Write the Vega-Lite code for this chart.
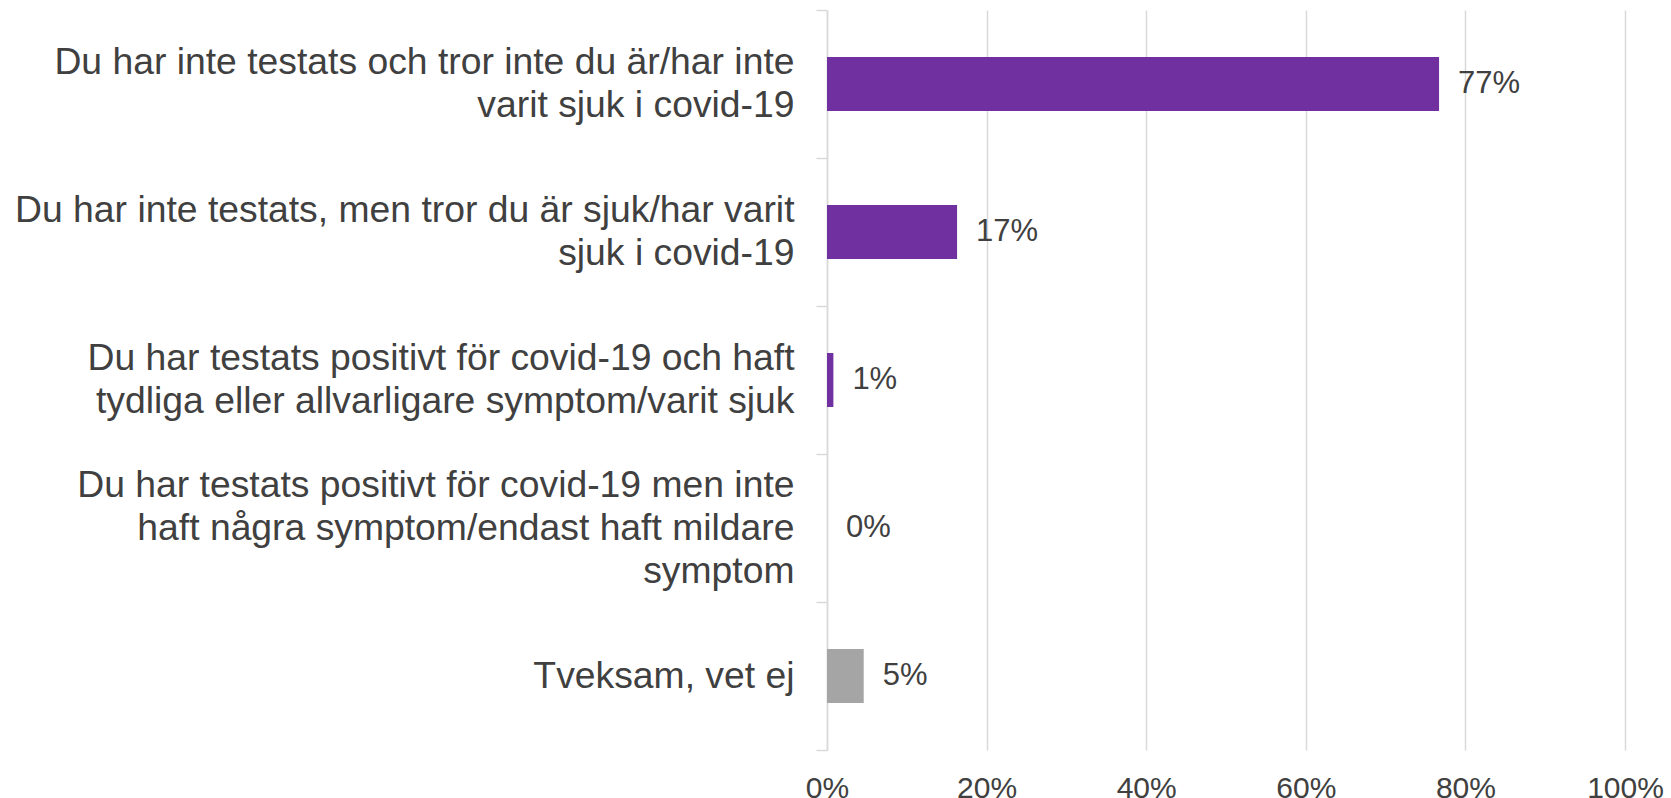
{
  "$schema": "https://vega.github.io/schema/vega-lite/v6.json",
  "autosize": "none",
  "width": 798,
  "height": 740,
  "padding": {"left": 827, "top": 10, "right": 46, "bottom": 48},
  "background": "white",
  "config": {"view": {"stroke": null}, "font": "Liberation Sans"},
  "data": {
    "values": [
      {"kategori": "Du har inte testats och tror inte du är/har inte|varit sjuk i covid-19", "andel": 0.767, "etikett": "77%", "grupp": "a"},
      {"kategori": "Du har inte testats, men tror du är sjuk/har varit|sjuk i covid-19", "andel": 0.163, "etikett": "17%", "grupp": "a"},
      {"kategori": "Du har testats positivt för covid-19 och haft|tydliga eller allvarligare symptom/varit sjuk", "andel": 0.008, "etikett": "1%", "grupp": "a"},
      {"kategori": "Du har testats positivt för covid-19 men inte|haft några symptom/endast haft mildare|symptom", "andel": 0.0, "etikett": "0%", "grupp": "a"},
      {"kategori": "Tveksam, vet ej", "andel": 0.046, "etikett": "5%", "grupp": "b"}
    ]
  },
  "encoding": {
    "y": {
      "field": "kategori",
      "type": "nominal",
      "sort": null,
      "scale": {"paddingInner": 0, "paddingOuter": 0},
      "axis": {
        "title": null,
        "labelExpr": "split(datum.label, '|')",
        "labelFont": "Liberation Sans",
        "labelFontSize": 37.3,
        "labelLineHeight": 43,
        "labelColor": "#404040",
        "labelLimit": 900,
        "labelAlign": "right",
        "labelBaseline": "middle",
        "labelPadding": 22,
        "labelOffset": {"expr": "-(length(split(datum.value, '|')) - 1) * 21.5"},
        "tickBand": "extent",
        "tickSize": 11,
        "tickColor": "#D9D9D9",
        "tickWidth": 1.5,
        "domainColor": "#D9D9D9",
        "domainWidth": 1.5,
        "grid": false
      }
    },
    "x": {
      "field": "andel",
      "type": "quantitative",
      "scale": {"domain": [0, 1], "nice": false},
      "axis": {
        "title": null,
        "format": ".0%",
        "values": [0, 0.2, 0.4, 0.6, 0.8, 1],
        "labelFont": "Liberation Sans",
        "labelFontSize": 30,
        "labelColor": "#404040",
        "labelPadding": 23,
        "labelFlush": false,
        "ticks": false,
        "domain": false,
        "grid": true,
        "gridColor": "#D9D9D9",
        "gridWidth": 1.5
      }
    }
  },
  "layer": [
    {
      "mark": {"type": "bar", "height": {"band": 0.365}},
      "encoding": {
        "color": {
          "field": "grupp",
          "type": "nominal",
          "scale": {"domain": ["a", "b"], "range": ["#7030A0", "#A5A5A5"]},
          "legend": null
        }
      }
    },
    {
      "mark": {"type": "text", "align": "left", "baseline": "middle", "dx": 19, "fontSize": 31, "font": "Liberation Sans", "color": "#404040"},
      "encoding": {"text": {"field": "etikett"}}
    }
  ]
}
